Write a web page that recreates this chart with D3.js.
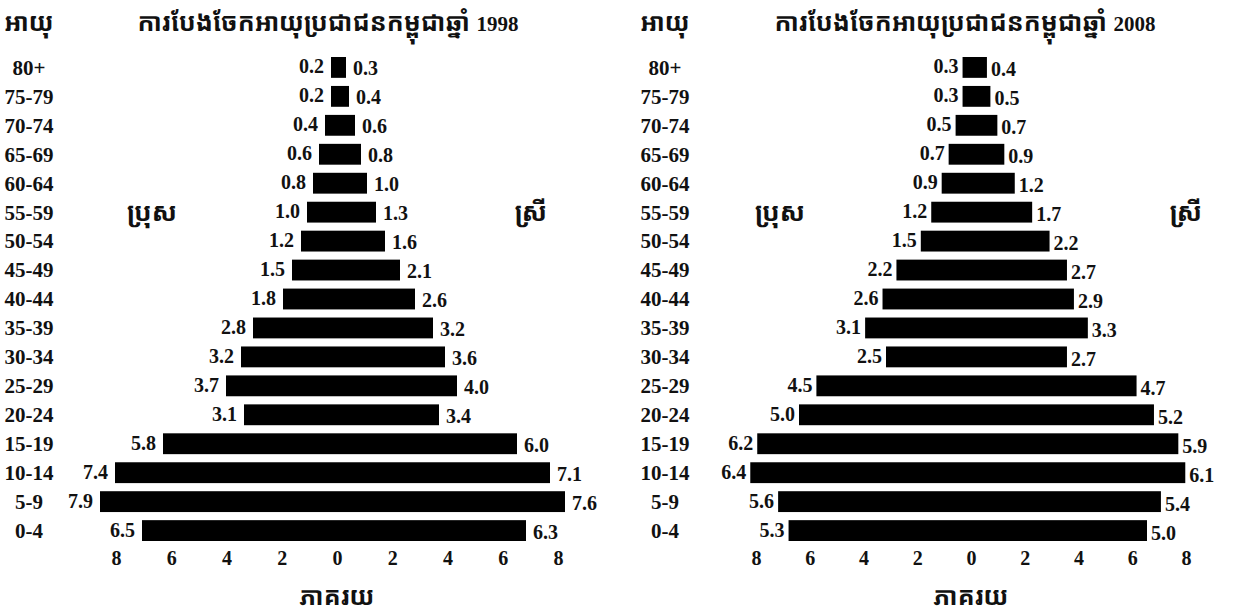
<!DOCTYPE html>
<html>
<head>
<meta charset="utf-8">
<script src="https://cdn.jsdelivr.net/npm/d3@7"></script>
<style>
  body { margin: 0; background: #fff; }
  svg text { font-family: "Liberation Serif", "DejaVu Serif", serif; font-weight: bold; fill: #111; }
  .kh { font-family: "Noto Sans Khmer", "Khmer OS", "Noto Sans", sans-serif; }
</style>
</head>
<body>
<div id="chart"></div>
<script>
// age groups, top to bottom
const ages = ["80+", "75-79", "70-74", "65-69", "60-64", "55-59", "50-54", "45-49", "40-44",
              "35-39", "30-34", "25-29", "20-24", "15-19", "10-14", "5-9", "0-4"];

// percent of population, 1998 census
const male1998   = [0.2, 0.2, 0.4, 0.6, 0.8, 1.0, 1.2, 1.5, 1.8, 2.8, 3.2, 3.7, 3.1, 5.8, 7.4, 7.9, 6.5];
const female1998 = [0.3, 0.4, 0.6, 0.8, 1.0, 1.3, 1.6, 2.1, 2.6, 3.2, 3.6, 4.0, 3.4, 6.0, 7.1, 7.6, 6.3];

// percent of population, 2008 census
const male2008   = [0.3, 0.3, 0.5, 0.7, 0.9, 1.2, 1.5, 2.2, 2.6, 3.1, 2.5, 4.5, 5.0, 6.2, 6.4, 5.6, 5.3];
const female2008 = [0.4, 0.5, 0.7, 0.9, 1.2, 1.7, 2.2, 2.7, 2.9, 3.3, 2.7, 4.7, 5.2, 5.9, 6.1, 5.4, 5.0];

// printed axis labels under each pyramid
const tickLabels = ["8", "6", "4", "2", "0", "2", "4", "6", "8"];

const ageTitle = "អាយុ";
const maleLabel = "ប្រុស";
const femaleLabel = "ស្រី";
const axisTitle = "ភាគរយ";
const chartTitle = "ការបែងចែកអាយុប្រជាជនកម្ពុជាឆ្នាំ";

const width = 1256, height = 614;

const svg = d3.select("#chart").append("svg")
    .attr("width", width)
    .attr("height", height);

const y = d3.scaleBand()
    .domain(ages)
    .range([57, 541])
    .paddingInner(0.28);

// one panel per census year
function drawPanel(opt) {
    const g = svg.append("g");

    // bars are printed a bit wider than the axis labels suggest
    const x = d3.scaleLinear()
        .domain([-1, 1])
        .range([opt.center - opt.unit, opt.center + opt.unit]);

    const rows = ages.map((a, i) => ({ age: a, m: opt.male[i], f: opt.female[i] }));
    const mid = d => y(d.age) + y.bandwidth() / 2;

    // age labels
    g.selectAll(".age")
        .data(rows)
        .enter().append("text")
        .attr("x", opt.ageX)
        .attr("y", mid)
        .attr("dy", "0.35em")
        .attr("text-anchor", "middle")
        .style("font-size", "21px")
        .text(d => d.age);

    // bars
    g.selectAll(".bar")
        .data(rows)
        .enter().append("rect")
        .attr("x", d => x(-d.m))
        .attr("y", d => y(d.age))
        .attr("width", d => x(d.f) - x(-d.m))
        .attr("height", y.bandwidth())
        .attr("fill", "#000");

    // value labels
    g.selectAll(".mval")
        .data(rows)
        .enter().append("text")
        .attr("x", d => x(-d.m) - opt.gap)
        .attr("y", mid)
        .attr("dy", "0.3em")
        .attr("text-anchor", "end")
        .style("font-size", "20px")
        .text(d => d.m.toFixed(1));

    g.selectAll(".fval")
        .data(rows)
        .enter().append("text")
        .attr("x", d => x(d.f) + opt.gap)
        .attr("y", d => mid(d) + opt.drop)
        .attr("dy", "0.3em")
        .attr("text-anchor", "start")
        .style("font-size", "20px")
        .text(d => d.f.toFixed(1));

    // axis labels
    const xt = d3.scalePoint()
        .domain(d3.range(tickLabels.length))
        .range(opt.tickRange);

    const axis = g.append("g")
        .attr("transform", "translate(0,548)")
        .call(d3.axisBottom(xt).tickSize(0).tickFormat(i => tickLabels[i]));
    axis.select(".domain").remove();
    axis.selectAll("text")
        .style("font-family", "'Liberation Serif', serif")
        .style("font-weight", "bold")
        .style("font-size", "20px")
        .attr("fill", "#111");

    // titles
    g.append("text")
        .attr("class", "kh")
        .attr("x", opt.ageX)
        .attr("y", 31)
        .attr("text-anchor", "middle")
        .style("font-size", "25px")
        .text(ageTitle);

    const t = g.append("text")
        .attr("class", "kh")
        .attr("x", opt.titleX)
        .attr("y", 31)
        .attr("text-anchor", "middle")
        .style("font-size", "25px")
        .text(chartTitle + " ");
    t.append("tspan")
        .style("font-family", "'Liberation Serif', serif")
        .style("font-size", "21px")
        .text(opt.year);

    g.append("text")
        .attr("class", "kh")
        .attr("x", opt.maleX)
        .attr("y", 221)
        .attr("text-anchor", "middle")
        .style("font-size", "26px")
        .text(maleLabel);

    g.append("text")
        .attr("class", "kh")
        .attr("x", opt.femaleX)
        .attr("y", 221)
        .attr("text-anchor", "middle")
        .style("font-size", "26px")
        .text(femaleLabel);

    g.append("text")
        .attr("class", "kh")
        .attr("x", opt.tickRange[0] / 2 + opt.tickRange[1] / 2)
        .attr("y", 605)
        .attr("text-anchor", "middle")
        .style("font-size", "25px")
        .text(axisTitle);
}

drawPanel({
    male: male1998, female: female1998, year: "1998",
    center: 337, unit: 30, gap: 7, drop: 2,
    ageX: 29, titleX: 328, maleX: 152, femaleX: 531,
    tickRange: [116, 558]
});

drawPanel({
    male: male2008, female: female2008, year: "2008",
    center: 973, unit: 34.8, gap: 4, drop: 3,
    ageX: 665, titleX: 965, maleX: 780, femaleX: 1186,
    tickRange: [756, 1186]
});
</script>
</body>
</html>
